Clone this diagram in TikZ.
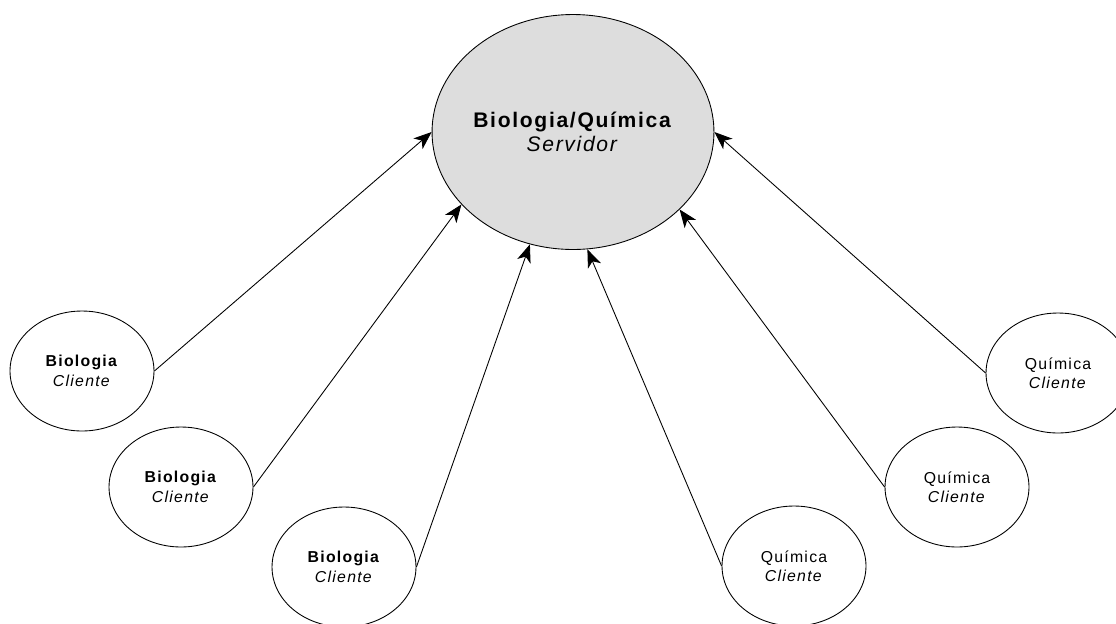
\documentclass[tikz,border=0pt]{standalone}
\usepackage{fontspec}
\setmainfont{Liberation Sans}[LetterSpace=8]
\usetikzlibrary{arrows.meta,shapes.geometric}
\definecolor{srvgray}{RGB}{221,221,221}
\tikzset{
  font={\fontsize{9pt}{11pt}\selectfont}}

\begin{document}
\begin{tikzpicture}[x=0.02cm,y=-0.02cm]
\tikzstyle{every node}+=[inner sep=0pt]
\tikzstyle{client}=[draw=black, line width=0.5pt, ellipse, align=center, minimum width=2.88cm, minimum height=2.4cm]
\tikzstyle{server}=[draw=black, line width=0.5pt, ellipse, align=center, fill=srvgray, minimum width=5.6cm, minimum height=4.7cm, font={\fontsize{12pt}{13.5pt}\selectfont}]
\tikzstyle{link}=[-{Stealth[length=3.6mm,width=2.8mm,inset=1mm]}, line width=0.5pt]
\useasboundingbox (0,0) rectangle (1116,623);
% server
\node [server] (srv) at (573,132) {\textbf{Biologia/Química}\\\textit{Servidor}};
% clients
\node [client] (bio1) at (82,371) {\textbf{Biologia}\\\textit{Cliente}};
\node [client] (bio2) at (181,487) {\textbf{Biologia}\\\textit{Cliente}};
\node [client] (bio3) at (344,567) {\textbf{Biologia}\\\textit{Cliente}};
\node [client] (qui1) at (794,566) {Química\\\textit{Cliente}};
\node [client] (qui2) at (957,487) {Química\\\textit{Cliente}};
\node [client] (qui3) at (1058,373) {Química\\\textit{Cliente}};
% links
\draw [link] (bio1.east) -- (srv.west);
\draw [link] (bio2.east) -- (srv.213);
\draw [link] (bio3.east) -- (srv.249);
\draw [link] (qui1.west) -- (srv.277);
\draw [link] (qui2.west) -- (srv.324);
\draw [link] (qui3.west) -- (srv.east);
\end{tikzpicture}
\end{document}
